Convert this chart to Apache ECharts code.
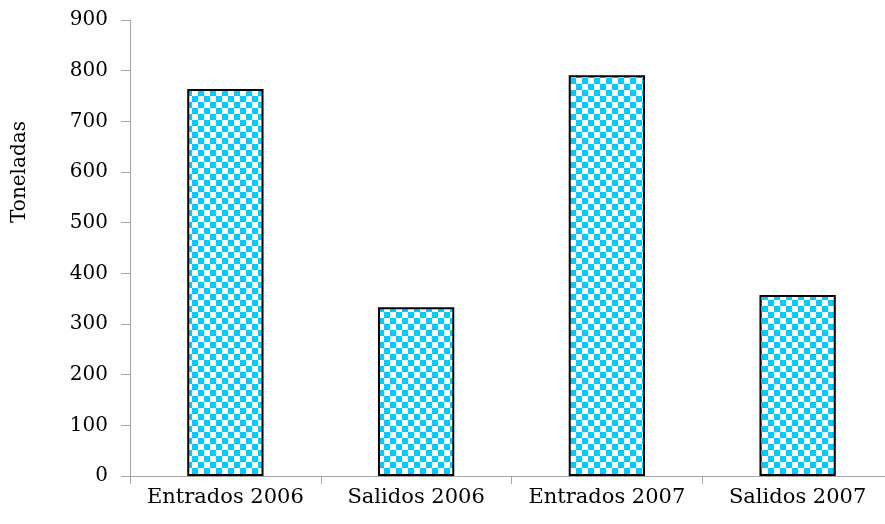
<!DOCTYPE html>
<html>
<head>
<meta charset="utf-8">
<script src="https://cdn.jsdelivr.net/npm/echarts@6/dist/echarts.min.js"></script>
<style>
html,body{margin:0;padding:0;background:#fff;}
#chart{width:885px;height:524px;}
</style>
</head>
<body>
<div id="chart"></div>
<script>
var categories = ['Entrados 2006', 'Salidos 2006', 'Entrados 2007', 'Salidos 2007'];
var toneladas = [764, 333, 791, 357];
var yTicks = [0, 100, 200, 300, 400, 500, 600, 700, 800, 900];
var yTitle = 'Toneladas';

function makePattern() {
  var c = document.createElement('canvas');
  var s = 6;
  c.width = 2 * s; c.height = 2 * s;
  var ctx = c.getContext('2d');
  ctx.fillStyle = '#ffffff';
  ctx.fillRect(0, 0, 2 * s, 2 * s);
  ctx.fillStyle = '#00ccff';
  ctx.fillRect(0, 0, s, s);
  ctx.fillRect(s, s, s, s);
  return c;
}

var chart = echarts.init(document.getElementById('chart'), null, {renderer: 'canvas'});
var FONT = 'DejaVu Serif';
chart.setOption({
  animation: false,
  backgroundColor: '#ffffff',
  grid: {left: 130, top: 20, width: 763, height: 456, containLabel: false, outerBoundsMode: 'none'},
  graphic: [{
    type: 'text',
    x: 20,
    y: 172,
    rotation: Math.PI / 2,
    style: {
      text: yTitle,
      fill: '#000',
      font: '20px "DejaVu Serif"',
      align: 'center',
      verticalAlign: 'middle'
    }
  }],
  xAxis: {
    type: 'category',
    data: categories,
    axisLine: {lineStyle: {color: '#a6a6a6', width: 1}},
    axisTick: {show: true, length: 8, lineStyle: {color: '#a6a6a6'}},
    axisLabel: {color: '#000', fontFamily: FONT, fontSize: 21, margin: 11, interval: 0},
    splitLine: {show: false}
  },
  yAxis: {
    type: 'value',
    min: yTicks[0],
    max: yTicks[yTicks.length - 1],
    interval: yTicks[1] - yTicks[0],
    axisLine: {show: true, lineStyle: {color: '#a6a6a6', width: 1}},
    axisTick: {show: true, length: 9, lineStyle: {color: '#a6a6a6'}},
    axisLabel: {color: '#000', fontFamily: FONT, fontSize: 20, margin: 22},
    splitLine: {show: false}
  },
  series: [{
    type: 'bar',
    data: toneladas,
    barWidth: '40%',
    itemStyle: {
      color: {image: makePattern(), repeat: 'repeat'},
      borderColor: '#000000',
      borderWidth: 2
    }
  }]
});
</script>
</body>
</html>
